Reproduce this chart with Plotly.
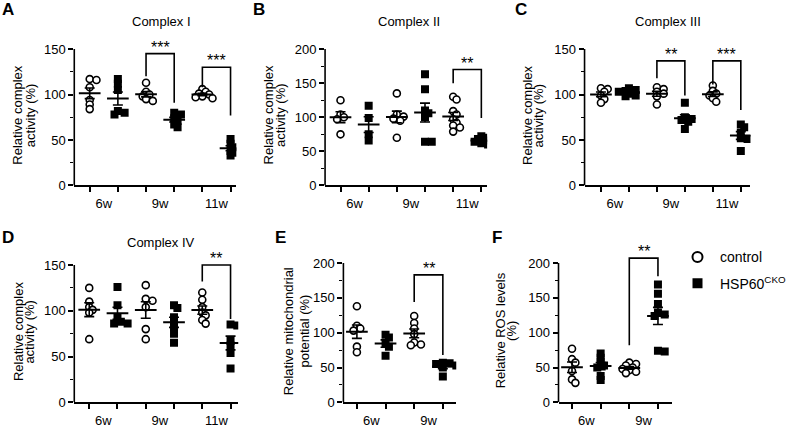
import numpy as np
import plotly.graph_objects as go

W, H = 791, 430
FONT = "Liberation Sans, Arial, Helvetica, sans-serif"

ages3 = ["6w", "9w", "11w"]
ages2 = ["6w", "9w"]

# values (% of control), one list per age group
c1_ctrl = [[117, 116, 108, 94, 89, 84], [113, 103, 100, 98, 95, 93], [106, 103, 101, 100, 98, 97, 96]]
c1_cko = [[117, 112, 105, 82, 80, 78], [80, 78, 74, 71, 67, 64], [51, 46, 42, 38, 36, 33]]

c2_ctrl = [[125, 104, 100, 97, 75], [135, 104, 101, 98, 95, 70], [130, 126, 109, 104, 97, 92, 88, 85, 79]]
c2_cko = [[117, 99, 75, 66], [163, 141, 110, 106, 100, 64, 64], [72, 70, 68, 66, 64, 62, 60]]

c3_ctrl = [[107, 106, 103, 99, 95, 91], [108, 106, 103, 101, 98, 89], [110, 104, 101, 99, 96, 92]]
c3_cko = [[107, 105, 104, 103, 101, 99, 98], [91, 75, 73, 72, 70, 62], [67, 64, 58, 52, 51, 38]]

c4_ctrl = [[125, 110, 104, 101, 98, 69], [128, 113, 111, 104, 80, 69], [120, 112, 104, 98, 95, 90, 86]]
c4_cko = [[126, 106, 92, 88, 86, 86], [106, 103, 93, 88, 82, 75, 65], [85, 84, 67, 62, 54, 37]]

mp_ctrl = [[138, 110, 106, 103, 80, 72], [124, 114, 106, 98, 86, 83, 82]]
mp_cko = [[97, 93, 85, 80, 67], [57, 56, 55, 53, 50, 37]]

ros_ctrl = [[77, 62, 57, 45, 33, 28], [57, 55, 53, 50, 48, 46, 44, 42]]
ros_cko = [[70, 64, 58, 53, 50, 38, 32], [169, 156, 141, 129, 126, 124, 74, 73]]

# significance brackets: (left pos, right pos, top, left leg end, right leg end, label)
sig_a = [(2, 3, 145, 120, 91, "***"), (4, 5, 130, 108, 77, "***")]
sig_b = [(4, 5, 170, 150, 99, "**")]
sig_c = [(2, 3, 137, 118, 99, "**"), (4, 5, 137, 111, 83, "***")]
sig_d = [(4, 5, 150, 132, 91, "**")]
sig_e = [(2, 3, 183, 144, 68, "**")]
sig_f = [(2, 3, 207, 82, 181, "**")]

# geometry in pixels: box = (left, right, px of ytop, px of 0)
panels = [
    dict(letter="A", title="Complex I", yt=["Relative complex", "activity (%)"], ages=ages3,
         ctrl=c1_ctrl, cko=c1_cko, ytop=150, sig=sig_a, box=(77, 245, 50, 189), first=93, step=29.2,
         title_xy=(167, 22), letter_xy=(8, 10), yt_x=(18, 31)),
    dict(letter="B", title="Complex II", yt=["Relative complex", "activity (%)"], ages=ages3,
         ctrl=c2_ctrl, cko=c2_cko, ytop=200, sig=sig_b, box=(337, 505, 50, 189), first=353, step=29.2,
         title_xy=(424, 22), letter_xy=(269, 10), yt_x=(278, 291)),
    dict(letter="C", title="Complex III", yt=["Relative complex", "activity (%)"], ages=ages3,
         ctrl=c3_ctrl, cko=c3_cko, ytop=150, sig=sig_c, box=(606, 778, 50, 189), first=623, step=29.0,
         title_xy=(693, 22), letter_xy=(540, 10), yt_x=(547, 558)),
    dict(letter="D", title="Complex IV", yt=["Relative complex", "activity (%)"], ages=ages3,
         ctrl=c4_ctrl, cko=c4_cko, ytop=150, sig=sig_d, box=(77, 247, 270, 410), first=92.5, step=29.3,
         title_xy=(167, 247), letter_xy=(8, 242), yt_x=(19, 31)),
    dict(letter="E", title="", yt=["Relative mitochondrial", "potential (%)"], ages=ages2,
         ctrl=mp_ctrl, cko=mp_cko, ytop=200, sig=sig_e, box=(356, 473, 268, 410), first=370, step=29.7,
         title_xy=None, letter_xy=(291, 242), yt_x=(299, 316)),
    dict(letter="F", title="", yt=["Relative ROS levels", "(%)"], ages=ages2,
         ctrl=ros_ctrl, cko=ros_cko, ytop=200, sig=sig_f, box=(579, 697, 268, 410), first=593, step=29.7,
         title_xy=None, letter_xy=(515, 242), yt_x=(519, 531)),
]


def swarm(values, kx, ky, diam=7.0):
    # simple beeswarm: put each point at the first side offset where it does not sit on another
    placed, offs = [], []
    for v in values:
        dx = 0.0
        for k in range(0, 14):
            step = (k + 1) // 2 * (1 if k % 2 else -1)
            dx = step * diam / 2
            if all((dx - px) ** 2 + ((v - pv) * ky) ** 2 >= (0.6 * diam) ** 2 for px, pv in placed):
                break
        placed.append((dx, v))
        offs.append(dx / kx)
    return offs


fig = go.Figure()
layout = dict(width=W, height=H, margin=dict(l=0, r=0, t=0, b=0),
              paper_bgcolor="white", plot_bgcolor="white",
              font=dict(family=FONT, size=13, color="black"))
annotations, shapes = [], []

for i, p in enumerate(panels, start=1):
    xl, xr, ytop_px, y0_px = p["box"]
    kx = p["step"]
    ky = (y0_px - ytop_px) / p["ytop"]
    ymax = p["ytop"] * 1.12
    top_px = y0_px - ymax * ky
    sfx = "" if i == 1 else str(i)
    xa, ya = "x" + sfx, "y" + sfx
    npos = 2 * len(p["ages"])

    layout["xaxis" + sfx] = dict(
        domain=[xl / W, xr / W], range=[-(p["first"] - xl) / kx, (xr - p["first"]) / kx],
        anchor=ya, showline=True, linecolor="black", linewidth=1.6, showgrid=False, zeroline=False,
        tickvals=[2 * g + 0.5 for g in range(len(p["ages"]))], ticktext=p["ages"],
        ticks="outside", ticklen=5, tickcolor="rgba(0,0,0,0)", tickfont=dict(size=13),
        minor=dict(tickvals=list(range(npos)), ticks="outside", ticklen=5, tickwidth=1.6, tickcolor="black"),
        fixedrange=True)
    step_major = 50
    layout["yaxis" + sfx] = dict(
        domain=[1 - y0_px / H, 1 - top_px / H], range=[0, ymax], anchor=xa,
        showline=False, showgrid=False, zeroline=False,
        tickvals=list(range(0, p["ytop"] + 1, step_major)), ticks="outside", ticklen=5, tickwidth=1.6,
        tickcolor="black", tickfont=dict(size=13),
        minor=dict(tickvals=list(range(25, p["ytop"], step_major)), ticks="outside", ticklen=3,
                   tickwidth=1.4, tickcolor="black"),
        fixedrange=True)
    # y axis line only up to the last tick
    shapes.append(dict(type="line", xref="paper", yref=ya, x0=xl / W, x1=xl / W, y0=0, y1=p["ytop"],
                       line=dict(color="black", width=1.6)))

    for series, base, style in [(p["ctrl"], 0, "ctrl"), (p["cko"], 1, "cko")]:
        xs, ys, mx, my, se = [], [], [], [], []
        for g, vals in enumerate(series):
            pos = 2 * g + base
            offs = swarm(vals, kx, ky)
            xs += [pos + o for o in offs]
            ys += vals
            arr = np.array(vals, dtype=float)
            mx.append(pos)
            my.append(arr.mean())
            se.append(arr.std(ddof=1) / np.sqrt(len(arr)))
        if style == "ctrl":
            mk = dict(symbol="circle", size=7, color="white", line=dict(color="black", width=1.6))
        else:
            mk = dict(symbol="square", size=8, color="black", line=dict(color="black", width=0))
        fig.add_trace(go.Scatter(x=xs, y=ys, mode="markers", marker=mk, xaxis=xa, yaxis=ya,
                                 showlegend=False, hoverinfo="skip"))
        fig.add_trace(go.Scatter(x=mx, y=my, mode="markers", xaxis=xa, yaxis=ya, showlegend=False,
                                 marker=dict(symbol="line-ew", size=15.5, color="black",
                                             line=dict(color="black", width=2)),
                                 error_y=dict(type="data", array=se, width=5, thickness=1.6, color="black"),
                                 hoverinfo="skip"))

    for a, b, top, la, lb, label in p["sig"]:
        shapes.append(dict(type="path", xref=xa, yref=ya,
                           path=f"M {a},{la} L {a},{top} L {b},{top} L {b},{lb}",
                           line=dict(color="black", width=1.6)))
        annotations.append(dict(x=(a + b) / 2, y=top, xref=xa, yref=ya, text=label, showarrow=False,
                                yanchor="bottom", yshift=-4, font=dict(size=16)))

    lx, ly = p["letter_xy"]
    annotations.append(dict(x=lx / W, y=1 - ly / H, xref="paper", yref="paper", text="<b>%s</b>" % p["letter"],
                            showarrow=False, font=dict(size=17), xanchor="center", yanchor="middle"))
    if p["title_xy"]:
        tx, ty = p["title_xy"]
        annotations.append(dict(x=tx / W, y=1 - ty / H, xref="paper", yref="paper", text=p["title"],
                                showarrow=False, font=dict(size=13), xanchor="center", yanchor="middle"))
    yc = 1 - ((ytop_px + y0_px) / 2 - 2) / H
    for line, x in zip(p["yt"], p["yt_x"]):
        annotations.append(dict(x=x / W, y=yc, xref="paper", yref="paper", text=line, textangle=-90,
                                showarrow=False, font=dict(size=13), xanchor="center", yanchor="middle"))

# legend entries
fig.add_trace(go.Scatter(x=[None], y=[None], mode="markers", name="control", legendgroup="a",
                         marker=dict(symbol="circle", size=10, color="white", line=dict(color="black", width=2))))
fig.add_trace(go.Scatter(x=[None], y=[None], mode="markers", name="HSP60<sup>CKO</sup>", legendgroup="b",
                         marker=dict(symbol="square", size=10, color="black")))

layout["annotations"] = annotations
layout["shapes"] = shapes
layout["showlegend"] = True
layout["legend"] = dict(x=700 / W, y=1 - 246 / H, xanchor="left", yanchor="top", font=dict(size=14),
                        tracegroupgap=5, itemwidth=35, bgcolor="rgba(0,0,0,0)", itemsizing="trace")
fig.update_layout(layout)

# drop the default page margin so the figure sits at the window's corner
fig.write_html("out.html", config={"displayModeBar": False},
               post_script="document.body.style.margin='0px';")
